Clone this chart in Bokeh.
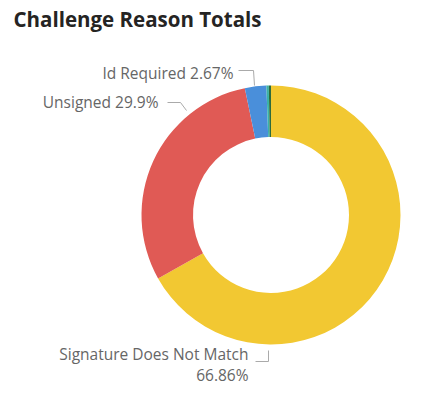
import math
from bokeh.plotting import figure
from bokeh.models import Range1d, ColumnDataSource
from bokeh.core.properties import value
from bokeh.embed import file_html
from bokeh.resources import INLINE

# ---- data ----
categories = ["Signature Does Not Match", "Unsigned", "Id Required", "Other", "Unknown"]
percents = [66.86, 29.9, 2.67, 0.30, 0.27]
colors = ["#F2C832", "#E05A55", "#4A8FDA", "#3BB2A6", "#2E6B3C"]
title_text = "Challenge Reason Totals"

# ---- layout (pixel-based data space) ----
W, H = 414, 388
cx, cy = 270.5, 173.5
r_out, r_in = 129.5, 78.0
FONT = "Open Sans"

p = figure(width=W, height=H, x_range=Range1d(0, W), y_range=Range1d(0, H),
           x_axis_type=None, y_axis_type=None, toolbar_location=None,
           output_backend="svg", min_border=0)
p.outline_line_color = None
p.grid.visible = False
p.background_fill_color = "white"
p.border_fill_color = "white"

total = sum(percents)
starts, ends = [], []
cum = 0.0
for v in percents:
    starts.append(math.pi / 2 - 2 * math.pi * cum / total)
    cum += v
    ends.append(math.pi / 2 - 2 * math.pi * cum / total)

src = ColumnDataSource(dict(cat=categories, val=percents, color=colors,
                            start=starts, end=ends))
p.annular_wedge(x=cx, y=cy, inner_radius=r_in, outer_radius=r_out,
                start_angle="start", end_angle="end", direction="clock",
                fill_color="color", line_color=None, source=src)


def fmt(v):
    s = f"{v:.2f}".rstrip("0").rstrip(".")
    return s + "%"

# labels (layout positions)
lab_x = [248, 158, 233]
lab_y = [35, 287, 316]
texts = [categories[0], f"{categories[1]} {fmt(percents[1])}", f"{categories[2]} {fmt(percents[2])}"]
p.text(x=lab_x, y=lab_y, text=texts, text_align="right", text_baseline="middle",
       text_font=value(FONT), text_font_size="15.5px", text_color="#666666")
p.text(x=[248], y=[14], text=[fmt(percents[0])], text_align="right", text_baseline="middle",
       text_font=value(FONT), text_font_size="15.5px", text_color="#666666")

# leader lines
leaders_x = [[255, 268, 268], [167, 180, 186], [238, 253, 254]]
leaders_y = [[27, 27, 38], [286, 286, 278], [318, 318, 303]]
p.multi_line(xs=leaders_x, ys=leaders_y, line_color="#AAAAAA", line_width=1)

# title
p.text(x=[13], y=[370], text=[title_text], text_align="left", text_baseline="middle",
       text_font=value(FONT), text_font_size="20.5px", text_font_style="bold",
       text_color="#252423")

open("out.html", "w").write(file_html(p, INLINE))
